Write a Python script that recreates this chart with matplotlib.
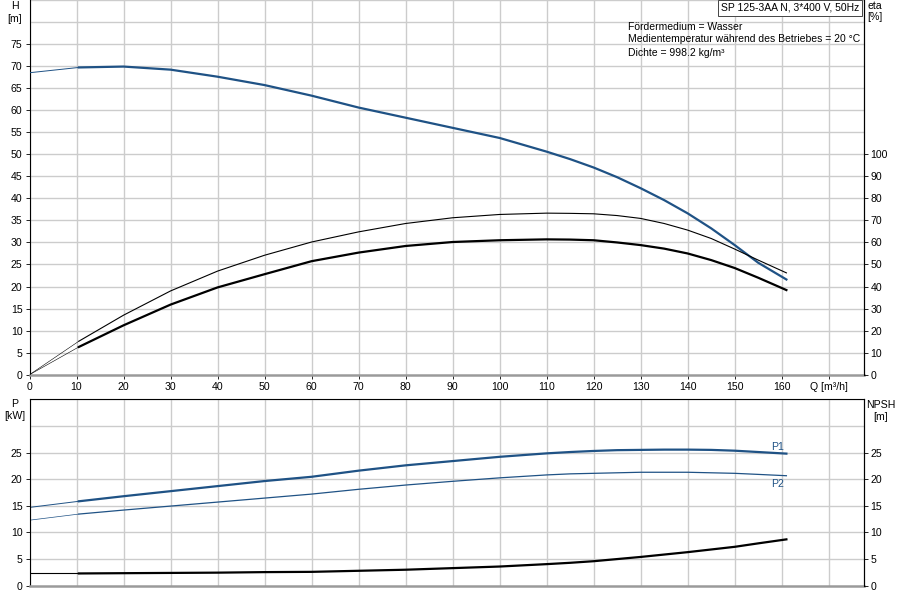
import matplotlib
matplotlib.use("Agg")
import matplotlib.pyplot as plt
import numpy as np

plt.rcParams['font.family'] = ['Liberation Sans', 'DejaVu Sans']

# ---- data ----
Q = [0, 10.5, 20, 30, 40, 50, 60, 70, 80, 90, 100, 110, 115, 120, 125, 130, 135, 140, 145, 150, 155, 161]
H = [68.5, 69.7, 69.9, 69.2, 67.6, 65.7, 63.3, 60.6, 58.3, 56.0, 53.7, 50.6, 48.9, 47.0, 44.8, 42.3, 39.6, 36.6, 33.2, 29.4, 25.4, 21.6]
eta_total = [0, 15.2, 27.0, 38.0, 47.0, 54.2, 60.2, 64.8, 68.6, 71.2, 72.7, 73.3, 73.2, 73.0, 72.2, 70.9, 68.6, 65.6, 61.8, 57.0, 52.0, 46.2]
eta_pump = [0, 12.6, 22.4, 31.8, 39.6, 45.6, 51.5, 55.4, 58.4, 60.2, 61.0, 61.4, 61.3, 61.0, 60.0, 58.8, 57.2, 55.0, 52.0, 48.4, 44.0, 38.4]
P1 = [14.7, 15.85, 16.8, 17.75, 18.7, 19.65, 20.45, 21.6, 22.6, 23.4, 24.2, 24.85, 25.1, 25.3, 25.45, 25.5, 25.55, 25.55, 25.5, 25.35, 25.1, 24.8]
P2 = [12.3, 13.45, 14.2, 14.95, 15.7, 16.45, 17.2, 18.1, 18.9, 19.6, 20.25, 20.8, 21.0, 21.1, 21.2, 21.3, 21.3, 21.3, 21.2, 21.1, 20.9, 20.65]
NPSH = [2.3, 2.3, 2.35, 2.4, 2.45, 2.55, 2.6, 2.8, 3.0, 3.3, 3.6, 4.05, 4.3, 4.6, 5.0, 5.4, 5.85, 6.3, 6.8, 7.3, 7.95, 8.7]

x_ticks = list(range(0, 170, 10))
x_tick_labels = [str(v) for v in x_ticks] + ["Q [m³/h]"]
h_ticks = list(range(0, 80, 5))
eta_ticks = list(range(0, 110, 10))
p_ticks = list(range(0, 30, 5))

title_txt = "SP 125-3AA N, 3*400 V, 50Hz"
info_txt = ["Fördermedium = Wasser",
            "Medientemperatur während des Betriebes = 20 °C",
            "Dichte = 998.2 kg/m³"]

BLUE = '#1f5285'
GRID = '#cccccc'
AXGRAY = '#9a9a9a'
FS = 7.6
TFS = 7.5

fig = plt.figure(figsize=(9, 6), dpi=100)
L, R = 29.5 / 900, 863.5 / 900
ax1 = fig.add_axes([L, 1 - 374.7 / 600, R - L, 374.7 / 600])
ax2 = fig.add_axes([L, 1 - 585.7 / 600, R - L, (585.7 - 399.3) / 600])

XMAX = 177.4

def style(ax, ymax, yticks, xlabels):
    ax.set_xlim(0, XMAX)
    ax.set_ylim(0, ymax)
    for v in range(0, 180, 10):
        ax.axvline(v, color=GRID, lw=1.0, zorder=0)
    for v in np.arange(5, ymax + 0.1, 5):
        ax.axhline(v, color=GRID, lw=1.0, zorder=0)
    ax.set_yticks(yticks)
    ax.set_yticklabels([str(v) for v in yticks], fontsize=FS)
    ax.spines['left'].set_color('black')
    ax.spines['left'].set_linewidth(0.8)
    ax.spines['bottom'].set_color(AXGRAY)
    ax.spines['bottom'].set_linewidth(1.8)
    ax.spines['right'].set_color('black')
    ax.spines['right'].set_linewidth(0.8)
    ax.tick_params(axis='y', length=3, width=0.6, pad=2, labelsize=FS)
    ax.set_xticks(list(range(0, 180, 10)))
    if xlabels:
        ax.set_xticklabels(x_tick_labels, fontsize=FS)
        ax.tick_params(axis='x', length=3, width=0.6, pad=2, color='black')
    else:
        ax.set_xticklabels([])
        ax.tick_params(axis='x', length=0)

style(ax1, 85, h_ticks, True)
ax1.spines['top'].set_visible(False)
style(ax2, 35, p_ticks, False)
ax2.spines['top'].set_color('black')
ax2.spines['top'].set_linewidth(0.8)

# top chart curves
ax1.plot(Q[:2], H[:2], color=BLUE, lw=0.7, zorder=3)
ax1.plot(Q[1:], H[1:], color=BLUE, lw=1.6, zorder=3)

ax1r = ax1.twinx()
ax1r.set_ylim(0, 170)
ax1r.set_yticks(eta_ticks)
ax1r.set_yticklabels([str(v) for v in eta_ticks], fontsize=FS)
ax1r.tick_params(axis='y', length=3, width=0.6, pad=2, labelsize=FS)
for s in ['top', 'left', 'bottom']:
    ax1r.spines[s].set_visible(False)
ax1r.spines['right'].set_linewidth(0.8)
ax1r.plot(Q[:2], eta_total[:2], color='black', lw=0.4, zorder=3)
ax1r.plot(Q[1:], eta_total[1:], color='black', lw=0.8, zorder=3)
ax1r.plot(Q[:2], eta_pump[:2], color='black', lw=0.4, zorder=3)
ax1r.plot(Q[1:], eta_pump[1:], color='black', lw=1.6, zorder=3)

# bottom chart curves
ax2.plot(Q[:2], P1[:2], color=BLUE, lw=0.7)
ax2.plot(Q[1:], P1[1:], color=BLUE, lw=1.6)
ax2.plot(Q[:2], P2[:2], color=BLUE, lw=0.5)
ax2.plot(Q[1:], P2[1:], color=BLUE, lw=0.9)
ax2.plot(Q[:2], NPSH[:2], color='black', lw=0.8)
ax2.plot(Q[1:], NPSH[1:], color='black', lw=1.6)
ax2.text(Q[-1] - 0.5, P1[-1] + 1.2, "P1", color=BLUE, fontsize=FS, ha='right', va='center')
ax2.text(Q[-1] - 0.5, P2[-1] - 1.55, "P2", color=BLUE, fontsize=FS, ha='right', va='center')

ax2r = ax2.twinx()
ax2r.set_ylim(0, 35)
ax2r.set_yticks(p_ticks)
ax2r.set_yticklabels([str(v) for v in p_ticks], fontsize=FS)
ax2r.tick_params(axis='y', length=3, width=0.6, pad=2, labelsize=FS)
for s in ['top', 'left', 'bottom']:
    ax2r.spines[s].set_visible(False)
ax2r.spines['right'].set_linewidth(0.8)

# axis titles
def ftext(x, y, s, **kw):
    fig.text(x / 900, 1 - y / 600, s, fontsize=FS, va='center', **kw)

ftext(15, 6, "H", ha='center')
ftext(15, 18.5, "[m]", ha='center')
ftext(875, 6, "eta", ha='center')
ftext(875, 17.5, "[%]", ha='center')
ftext(15, 404, "P", ha='center')
ftext(15, 416, "[kW]", ha='center')
ftext(881, 405, "NPSH", ha='center')
ftext(881, 417, "[m]", ha='center')

# title box
fig.text(859 / 900, 1 - 8 / 600, title_txt, fontsize=TFS, ha='right', va='center',
         bbox=dict(boxstyle='square,pad=0.25', fc='white', ec='#444444', lw=0.7))
for i, line in enumerate(info_txt):
    fig.text(627.5 / 900, 1 - (26.5 + 13 * i) / 600, line, fontsize=TFS, ha='left', va='center')

fig.savefig("out.png", dpi=100)
